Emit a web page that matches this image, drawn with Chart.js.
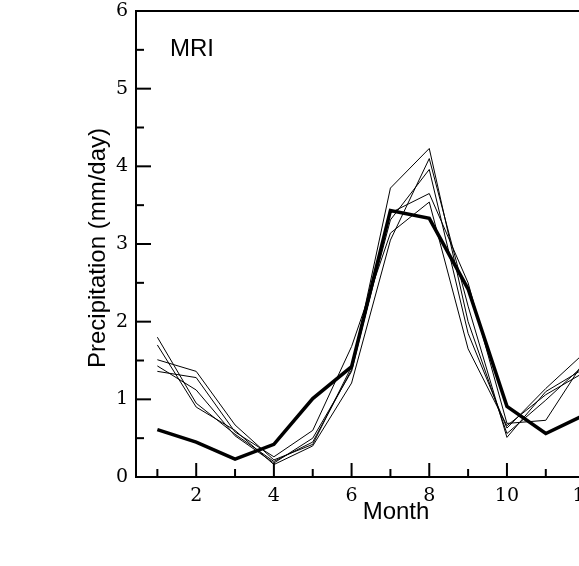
<!DOCTYPE html>
<html>
<head>
  <title>MRI precipitation</title>
  <script src="https://cdn.jsdelivr.net/npm/chart.js"></script>
  <style>
    html, body { margin: 0; padding: 0; background: #fff; overflow: hidden; }
    #wrap { width: 620px; height: 566px; }
  </style>
</head>
<body>
  <div id="wrap"><canvas id="chart" width="620" height="566"></canvas></div>

  <script>
    const months = [1, 2, 3, 4, 5, 6, 7, 8, 9, 10, 11, 12];
    const observed = [0.61, 0.45, 0.23, 0.42, 1.01, 1.42, 3.43, 3.33, 2.42, 0.91, 0.56, 0.80];
    const model1 = [1.80, 0.95, 0.55, 0.20, 0.45, 1.38, 3.72, 4.23, 2.00, 0.56, 0.99, 1.45];
    const model2 = [1.70, 0.90, 0.60, 0.16, 0.40, 1.21, 3.05, 4.10, 2.20, 0.51, 1.10, 1.40];
    const model3 = [1.51, 1.36, 0.67, 0.22, 0.42, 1.42, 3.31, 3.96, 1.85, 0.63, 1.14, 1.60];
    const model4 = [1.43, 1.12, 0.53, 0.18, 0.50, 1.36, 3.40, 3.65, 2.50, 0.69, 0.73, 1.50];
    const model5 = [1.36, 1.28, 0.58, 0.26, 0.60, 1.68, 3.14, 3.54, 1.65, 0.66, 1.06, 1.35];
    const xTickValues = [1, 2, 3, 4, 5, 6, 7, 8, 9, 10, 11, 12];
    const yTickValues = [0, 0.5, 1, 1.5, 2, 2.5, 3, 3.5, 4, 4.5, 5, 5.5, 6];

    const toPoints = arr => arr.map((v, i) => ({ x: months[i], y: v }));

    const thin = data => ({
      data: toPoints(data),
      borderColor: '#000',
      borderWidth: 1,
      pointRadius: 0,
      tension: 0,
      fill: false
    });

    // frame, inward tick marks and text labels
    const decor = {
      id: 'decor',
      afterDraw(chart) {
        const ctx = chart.ctx;
        const a = chart.chartArea;
        const xs = chart.scales.x, ys = chart.scales.y;
        ctx.save();
        ctx.strokeStyle = '#000';
        ctx.lineWidth = 2;
        ctx.strokeRect(a.left, a.top, a.right - a.left, a.bottom - a.top);

        xTickValues.forEach(v => {
          const px = xs.getPixelForValue(v);
          const len = v % 2 === 0 ? 14 : 8;
          ctx.beginPath();
          ctx.moveTo(px, a.bottom);
          ctx.lineTo(px, a.bottom - len);
          ctx.stroke();
        });
        yTickValues.forEach(v => {
          const py = ys.getPixelForValue(v);
          const len = Number.isInteger(v) ? 15 : 8;
          ctx.beginPath();
          ctx.moveTo(a.left, py);
          ctx.lineTo(a.left + len, py);
          ctx.stroke();
        });

        ctx.fillStyle = '#000';
        ctx.font = '24px "Liberation Sans", Arial, sans-serif';
        ctx.textAlign = 'left';
        ctx.textBaseline = 'alphabetic';
        ctx.fillText('MRI', 170, 56);

        ctx.textAlign = 'center';
        ctx.fillText('Month', 396, 519);

        ctx.translate(105, 248);
        ctx.rotate(-Math.PI / 2);
        ctx.fillText('Precipitation (mm/day)', 0, 0);
        ctx.restore();
      }
    };

    new Chart(document.getElementById('chart'), {
      type: 'line',
      data: {
        datasets: [
          thin(model1), thin(model2), thin(model3), thin(model4), thin(model5),
          {
            data: toPoints(observed),
            borderColor: '#000',
            borderWidth: 3.5,
            pointRadius: 0,
            tension: 0,
            fill: false
          }
        ]
      },
      options: {
        responsive: false,
        animation: false,
        layout: { padding: { top: 0, right: 14, left: 0, bottom: 0 } },
        plugins: {
          legend: { display: false },
          tooltip: { enabled: false }
        },
        scales: {
          x: {
            type: 'linear',
            min: 0.45,
            max: 12.55,
            grid: { display: false, drawTicks: false },
            border: { display: false },
            afterFit: s => { s.height = 89; },
            afterBuildTicks: s => { s.ticks = xTickValues.map(v => ({ value: v })); },
            ticks: {
              autoSkip: false,
              maxRotation: 0,
              padding: 8,
              color: '#000',
              font: { family: '"DejaVu Serif", serif', size: 19 },
              callback: v => (v % 2 === 0 ? String(v) : '')
            }
          },
          y: {
            min: 0,
            max: 6,
            grid: { display: false, drawTicks: false },
            border: { display: false },
            afterFit: s => { s.width = 136; s.paddingTop = 11; },
            afterBuildTicks: s => { s.ticks = yTickValues.map(v => ({ value: v })); },
            ticks: {
              autoSkip: false,
              padding: 8,
              color: '#000',
              font: { family: '"DejaVu Serif", serif', size: 19 },
              callback: v => (Number.isInteger(v) ? String(v) : '')
            }
          }
        }
      },
      plugins: [decor]
    });
  </script>
</body>
</html>
